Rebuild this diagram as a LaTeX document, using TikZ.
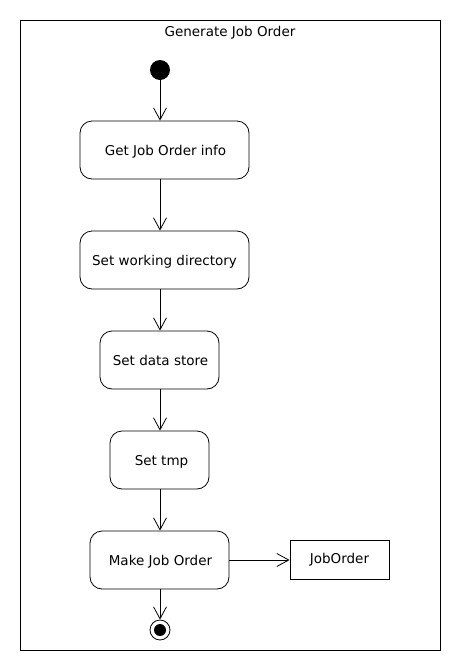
\documentclass[tikz,border=0pt]{standalone}
\usepackage{fontspec}
\setmainfont{DejaVu Sans}
\usetikzlibrary{arrows.meta}

\tikzset{
  label font/.style={font=\fontsize{13.5}{16}\selectfont},
  activity/.style={draw, rounded corners=12pt, minimum height=58pt, align=center, text depth=0pt, label font},
  object/.style={draw, minimum height=39pt, minimum width=99pt, label font},
  flow/.style={-{Straight Barb[length=12pt,width=13pt]}},
}

\begin{document}
\begin{tikzpicture}[x=1pt,y=-1pt,line width=0.8pt]
  \useasboundingbox (0,0) rectangle (460,670);
  \draw (20,20) rectangle (440,650);
  \node[label font] (title) at (230,33) {Generate Job Order};

  \node[circle, fill, inner sep=0pt, minimum size=20pt] (start) at (160,70) {};
  \node[activity, minimum width=169pt] (info) at (164.5,150) {\hspace{2pt}Get Job Order info};
  \node[activity, minimum width=169pt] (workdir) at (164.5,260) {Set working directory};
  \node[activity, minimum width=119pt] (store) at (159.5,360) {\hspace{2pt}Set data store};
  \node[activity, minimum width=99pt] (tmp) at (159.5,460) {\hspace{4pt}Set tmp};
  \node[activity, minimum width=139pt] (make) at (159.5,560) {\hspace{2pt}Make Job Order};
  \node[object] (joborder) at (339.5,559.5) {JobOrder};
  \node[circle, draw, inner sep=0pt, minimum size=20pt] (end) at (160,630) {};
  \node[circle, fill, inner sep=0pt, minimum size=12pt] at (end) {};

  \draw[flow] (start) -- (start |- info.north);
  \draw[flow] (info.south -| start) -- (start |- workdir.north);
  \draw[flow] (workdir.south -| start) -- (start |- store.north);
  \draw[flow] (store.south -| start) -- (start |- tmp.north);
  \draw[flow] (tmp.south -| start) -- (start |- make.north);
  \draw[flow] (make.south -| start) -- (end);
  \draw[flow] (make.east) -- (joborder.west |- make.east);
\end{tikzpicture}
\end{document}
